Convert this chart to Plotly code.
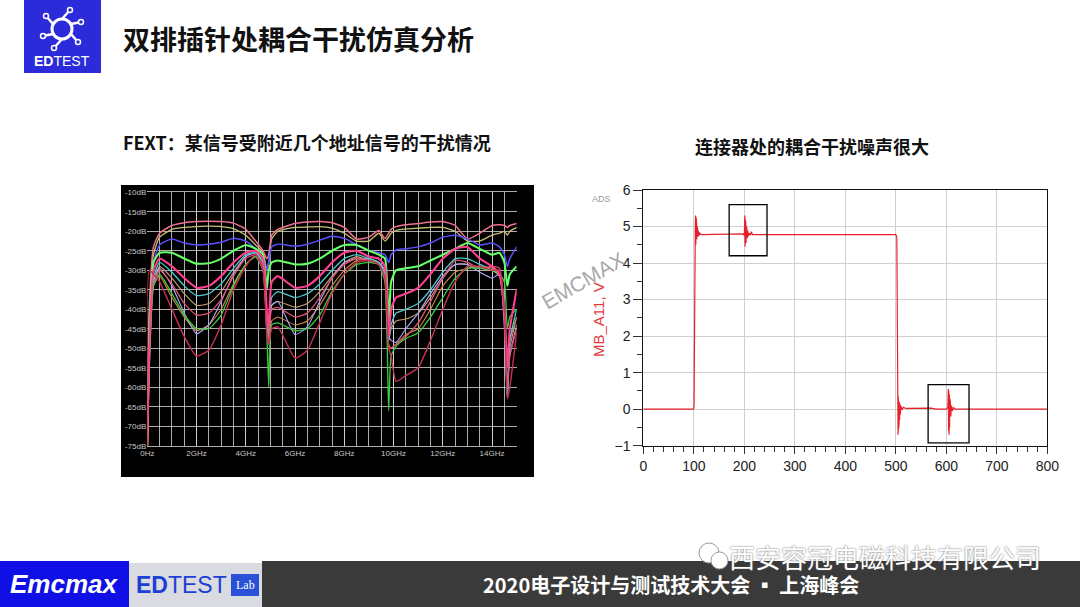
import plotly.graph_objects as go

W, H = 1080, 607

# ---------------- data: left chart (FEXT, dB vs GHz) ----------------
freq_ghz = [0, 0.08, 0.25, 0.5, 1.0, 1.5, 2.0, 2.5, 3.0, 3.5, 4.0, 4.4, 4.7, 4.85, 4.93, 5.05, 5.3,
            6.0, 6.5, 7.0, 7.5, 8.0, 8.5, 9.0, 9.4, 9.65, 9.8, 9.9, 10.1, 10.5, 11.0, 11.5, 12.0,
            12.5, 13.0, 13.5, 14.0, 14.3, 14.5, 14.62, 14.72, 15.0]

fext_pink_top = [-75, -40, -24, -20.5, -18.5, -17.8, -17.5, -17.4, -17.5, -17.9, -19.5, -22.5, -25, -27, -26, -21, -19.5,
                 -18, -17.6, -17.5, -17.8, -19, -22, -21.5, -19.8, -21.8, -20.5, -19.5, -18.8, -18.3, -18, -17.6, -17.5,
                 -18.5, -22, -20.5, -18.5, -18.3, -18.5, -19, -18.5, -18]
fext_olive_top = [-75, -42, -26, -21.5, -19.5, -19, -18.8, -18.7, -18.8, -19.3, -21, -23.5, -25.5, -30, -28, -22, -20,
                  -19, -18.9, -18.8, -19.2, -20.5, -22.5, -22.5, -20.5, -22.5, -21.5, -20.5, -19.8, -19.4, -19.2, -19, -19,
                  -20, -22.5, -22.5, -21, -20.5, -20, -21, -20, -19]
fext_blue = [-75, -45, -28, -23.5, -22, -23, -23.5, -23.3, -22.8, -21.8, -22.5, -24.5, -26, -30, -28, -24, -23.3,
             -23.8, -23.3, -22.3, -21.3, -21.8, -23.5, -25, -25.5, -26, -28, -26, -24.8, -24.5, -24, -23, -21.5,
             -21, -22, -23.5, -23, -24, -26, -29, -27, -24]
fext_green_thick = [-75, -45, -28, -25.5, -25.5, -27, -28.3, -28.2, -27, -25, -23.5, -24.5, -26, -35, -30, -28, -27.5,
                    -28.5, -28.3, -27, -25, -23.5, -23.5, -25, -26, -27, -45, -33, -30, -29.5, -29, -27.5, -26,
                    -24.5, -23, -24.5, -26, -25.5, -28, -34, -31, -29]
fext_magenta = [-75, -50, -30, -27, -29, -32, -34.5, -34, -31.5, -28, -25.5, -25, -27, -40, -45, -33, -31.5,
                -34.5, -34, -31.5, -28, -25.5, -25, -26.5, -27, -29, -47, -40, -37, -36, -34.5, -31, -27,
                -24.5, -24, -27, -29, -31, -40, -55, -45, -35]
fext_cyan = [-75, -50, -32, -28, -30.5, -34, -36.5, -36, -33.5, -29.5, -26, -25.5, -28, -42, -46, -37, -35.5,
             -37, -36, -33.5, -30, -27, -26, -27, -28, -31, -48, -44, -41, -40, -38.5, -35, -30.5,
             -27, -27, -28.5, -30, -31, -40, -62, -48, -40]
fext_tan = [-75, -52, -33, -29, -32, -36, -39, -38.5, -35.5, -30.5, -26.5, -25.5, -28, -44, -46, -39, -38,
            -39.5, -38.5, -35.5, -31.5, -28, -26.5, -27.5, -28.5, -32, -48, -45, -43, -42.5, -41, -37, -32,
            -28.5, -28.5, -29.5, -30, -31.5, -42, -60, -50, -42]
fext_lavender = [-75, -52, -33, -29.5, -34, -41, -46.3, -44, -38, -31, -26.5, -25.5, -28, -45, -47, -39, -38,
                 -46.5, -44.5, -38, -32, -28, -27, -27, -28, -30, -47, -48, -48.5, -45, -41, -36, -31.5,
                 -28.5, -28.5, -30.5, -32, -31, -45, -63, -52, -44]
fext_rose = [-75, -55, -34, -30, -33.5, -38.5, -41.5, -41, -37.5, -31.5, -27, -26, -29, -45, -48, -40, -39.5,
             -42, -41, -37, -32, -28.5, -27, -27.5, -28.5, -32, -50, -50, -49, -47, -43.5, -38, -32,
             -27.5, -28, -29.5, -29, -29.5, -42, -60, -52, -45]
fext_green_low = [-75, -55, -34, -31, -36, -41.5, -45, -45, -41.5, -34, -28.5, -26.5, -30, -45, -60, -44, -43.5,
                  -45.5, -45, -41.5, -35.5, -31, -28.5, -28, -28.5, -33, -66, -52, -49.5, -47.5, -46, -42, -37,
                  -32, -29.5, -29.5, -30, -31, -33, -45, -42, -40]
fext_orange = [-75, -55, -34, -31.5, -37, -42, -45.5, -44, -40, -33.5, -28.5, -26.5, -30, -45, -48, -43, -42,
               -44, -43, -39, -34, -30, -27.5, -27, -28, -31, -49, -50, -49, -46.5, -45, -40, -34,
               -30.5, -29.5, -29, -29.5, -31, -40, -55, -48, -42]
fext_deep_red = [-75, -30, -31, -33, -40, -47, -52, -50.5, -44, -35, -29, -26, -30, -46, -49, -45, -44.5,
                 -52.5, -50.5, -43.5, -36, -31, -28, -27.5, -28.5, -32, -50, -52, -58.5, -57, -55, -48, -40,
                 -33, -29, -29, -30, -30, -40, -63, -60, -46]

left_y_ticks = [-75, -70, -65, -60, -55, -50, -45, -40, -35, -30, -25, -20, -15, -10]
left_x_ticks = [0, 2, 4, 6, 8, 10, 12, 14]
left_x_labels = ["0Hz", "2GHz", "4GHz", "6GHz", "8GHz", "10GHz", "12GHz", "14GHz"]

# ---------------- data: right chart (MB_A11 voltage vs time) ----------------
time_ns = [0, 99.5, 100.5, 101, 102, 103, 103.5, 104, 104.5, 105, 105.5, 106, 106.5, 107, 107.5, 108, 109, 110,
           112, 115, 195, 198, 200, 201, 201.5, 202, 202.5, 203, 203.5, 204, 204.5, 205, 206, 207, 208, 210,
           212, 214, 216, 500, 502, 503, 504, 504.5, 505, 505.5, 506, 506.5, 507, 507.5, 508, 509, 510, 512,
           515, 520, 570, 580, 600, 603, 604, 604.5, 605, 605.5, 606, 606.5, 607, 607.5, 608, 609, 610, 612,
           614, 617, 800]
mb_a11_v = [0, 0, 0.1, 3.0, 3.1, 5.0, 5.3, 4.5, 5.25, 4.6, 5.1, 4.65, 5.0, 4.7, 4.95, 4.72, 4.88, 4.75,
            4.82, 4.78, 4.78, 4.8, 4.75, 5.3, 4.45, 5.2, 4.5, 5.1, 4.55, 5.0, 4.6, 4.95, 4.68, 4.88, 4.74, 4.82,
            4.76, 4.86, 4.78, 4.78, 4.72, 1.2, 0.3, -0.7, 0.35, -0.55, 0.3, -0.4, 0.2, -0.3, 0.15, -0.15, 0.1, -0.02,
            0.05, 0.02, 0.03, 0.0, 0.0, 0.05, 0.55, -0.6, 0.5, -0.7, 0.4, -0.5, 0.3, -0.35, 0.2, -0.2, 0.1, -0.05,
            0.05, 0, 0]
highlight_box_1 = {"t": [170, 245], "v": [4.2, 5.6]}
highlight_box_2 = {"t": [564, 645], "v": [-0.92, 0.67]}

# ---------------- texts ----------------
title_text = "双排插针处耦合干扰仿真分析"
left_caption = "FEXT：某信号受附近几个地址信号的干扰情况"
right_caption = "连接器处的耦合干扰噪声很大"
footer_text = "2020电子设计与测试技术大会 ▪ 上海峰会"
company_text = "西安容冠电磁科技有限公司"

CJK = "Noto Sans CJK SC"
LAT = "Liberation Sans"


def px(x):
    return x / W


def py(y):
    return 1 - y / H


fig = go.Figure()

left_series = [
    (fext_olive_top, "#c8c070", 1.3),
    (fext_pink_top, "#f07090", 1.5),
    (fext_blue, "#5a50ff", 1.5),
    (fext_tan, "#c8a070", 1.1),
    (fext_orange, "#d08840", 1.1),
    (fext_lavender, "#b0a8ff", 1.1),
    (fext_cyan, "#50c8d0", 1.3),
    (fext_rose, "#e05070", 1.3),
    (fext_green_low, "#40c840", 1.3),
    (fext_green_thick, "#66ff66", 2.1),
    (fext_magenta, "#ff4090", 2.1),
    (fext_deep_red, "#c83050", 1.4),
]
for vals, col, lw in left_series:
    fig.add_trace(go.Scatter(x=freq_ghz, y=vals, mode="lines", xaxis="x", yaxis="y",
                             line=dict(color=col, width=lw, shape="spline", smoothing=0.5),
                             hoverinfo="skip"))

fig.add_trace(go.Scatter(x=time_ns, y=mb_a11_v, mode="lines", xaxis="x2", yaxis="y2",
                         line=dict(color="#e8202a", width=1.2), hoverinfo="skip"))

GRID_L = "rgba(215,215,215,0.8)"
fig.update_layout(
    width=W, height=H, margin=dict(l=0, r=0, t=0, b=0, pad=0, autoexpand=False),
    paper_bgcolor="white", plot_bgcolor="rgba(0,0,0,0)", showlegend=False,
    xaxis=dict(domain=[px(147.3), px(516.7)], anchor="y", range=[0, 15], automargin=False,
               tickmode="array", tickvals=left_x_ticks, ticktext=left_x_labels,
               showgrid=True, gridcolor=GRID_L, gridwidth=1, zeroline=False, ticks="",
               minor=dict(tickmode="linear", tick0=0, dtick=0.5, showgrid=True, gridcolor=GRID_L, gridwidth=1),
               tickfont=dict(family=LAT, size=8, color="#c8c8c8"), showline=True, linecolor=GRID_L, mirror=True),
    yaxis=dict(domain=[py(445.7), py(192.3)], anchor="x", range=[-75, -10], automargin=False,
               tickmode="array", tickvals=left_y_ticks, ticktext=[f"{v}dB" for v in left_y_ticks],
               showgrid=True, gridcolor=GRID_L, gridwidth=1, zeroline=False, ticks="",
               tickfont=dict(family=LAT, size=8, color="#c8c8c8"), showline=False),
    xaxis2=dict(domain=[px(643.3), px(1047.3)], anchor="y2", range=[0, 800], automargin=False,
                tickmode="linear", tick0=0, dtick=100, showgrid=True, gridcolor="#cfcfcf", gridwidth=1,
                zeroline=False, ticks="outside", ticklen=7, tickcolor="#333", tickwidth=1,
                minor=dict(tickmode="linear", tick0=0, dtick=20, ticks="outside", ticklen=5, tickcolor="#333",
                           showgrid=False),
                showline=True, linecolor="#111", linewidth=1, mirror=True,
                tickfont=dict(family=LAT, size=14, color="#222")),
    yaxis2=dict(domain=[py(445.7), py(190)], anchor="x2", range=[-1, 6], automargin=False,
                tickmode="linear", tick0=-1, dtick=1, showgrid=True, gridcolor="#cfcfcf", gridwidth=1,
                zeroline=False, ticks="outside", ticklen=9, tickcolor="#333", tickwidth=1,
                minor=dict(tickmode="linear", tick0=-1, dtick=0.5, ticks="outside", ticklen=5, tickcolor="#333",
                           showgrid=False),
                showline=True, linecolor="#111", linewidth=1, mirror=True,
                tickfont=dict(family=LAT, size=14, color="#222")),
)

shapes = []
# left chart black panel
shapes.append(dict(type="rect", xref="paper", yref="paper", x0=px(121), x1=px(534), y0=py(477), y1=py(185),
                   fillcolor="black", line=dict(width=0), layer="below"))
# header logo
shapes.append(dict(type="rect", xref="paper", yref="paper", x0=px(24), x1=px(101), y0=py(73), y1=py(0),
                   fillcolor="#2b2bd9", line=dict(width=0), layer="below"))
shapes.append(dict(type="circle", xref="paper", yref="paper", x0=px(52), x1=px(72), y0=py(39), y1=py(19),
                   fillcolor="rgba(0,0,0,0)", line=dict(color="white", width=3)))
arms = [((62, 19), (70, 10)), ((71, 24), (81, 22)), ((71, 34), (78, 42)),
        ((62, 39), (54, 48)), ((53, 34), (43, 36)), ((53, 24), (46, 16))]
for (xa, ya), (xb, yb) in arms:
    shapes.append(dict(type="line", xref="paper", yref="paper", x0=px(xa), y0=py(ya), x1=px(xb), y1=py(yb),
                       line=dict(color="white", width=2.5)))
    shapes.append(dict(type="circle", xref="paper", yref="paper", x0=px(xb - 2.5), x1=px(xb + 2.5),
                       y0=py(yb + 2.5), y1=py(yb - 2.5), fillcolor="#2b2bd9", line=dict(color="white", width=1.5)))
# right chart highlight boxes
for box in (highlight_box_1, highlight_box_2):
    shapes.append(dict(type="rect", xref="x2", yref="y2", x0=box["t"][0], x1=box["t"][1],
                       y0=box["v"][0], y1=box["v"][1], line=dict(color="black", width=1.3),
                       fillcolor="rgba(0,0,0,0)"))
# footer
shapes.append(dict(type="rect", xref="paper", yref="paper", x0=px(0), x1=px(129), y0=py(607), y1=py(561),
                   fillcolor="#1010e6", line=dict(width=0), layer="below"))
shapes.append(dict(type="rect", xref="paper", yref="paper", x0=px(129), x1=px(262), y0=py(607), y1=py(563),
                   fillcolor="#d9dbe0", line=dict(width=0), layer="below"))
shapes.append(dict(type="rect", xref="paper", yref="paper", x0=px(262), x1=px(1080), y0=py(607), y1=py(561),
                   fillcolor="#3b3a3a", line=dict(width=0), layer="below"))
shapes.append(dict(type="rect", xref="paper", yref="paper", x0=px(231), x1=px(259), y0=py(596), y1=py(574),
                   fillcolor="#2a50d8", line=dict(width=0)))
# wechat icon
shapes.append(dict(type="circle", xref="paper", yref="paper", x0=px(699), x1=px(719), y0=py(563), y1=py(543),
                   fillcolor="white", line=dict(color="#9a9a9a", width=1)))
shapes.append(dict(type="circle", xref="paper", yref="paper", x0=px(711), x1=px(728), y0=py(569), y1=py(552),
                   fillcolor="white", line=dict(color="#9a9a9a", width=1)))
fig.update_layout(shapes=shapes)

ann = []


def add_text(x, y, text, size, color, family, xanchor="center", angle=0, **kw):
    ann.append(dict(x=px(x), y=py(y), xref="paper", yref="paper", text=text, showarrow=False,
                    xanchor=xanchor, yanchor="middle", textangle=angle,
                    font=dict(size=size, color=color, family=family, **kw)))


add_text(62, 61, "<b>ED</b>TEST", 14, "white", LAT)
add_text(121, 38, f"<b>{title_text}</b>", 27, "#111", CJK, xanchor="left")
add_text(121, 142, f"<b>{left_caption}</b>", 18, "#111", CJK, xanchor="left")
add_text(812, 146, f"<b>{right_caption}</b>", 18, "#111", CJK)
add_text(601, 199, "ADS", 9, "#9a9a9a", LAT)
add_text(598, 320, "MB_A11, V", 15, "#e8383d", LAT, angle=-90)
add_text(583, 280, "EMCMAX", 21, "rgba(140,140,140,0.75)", LAT, angle=-30)
add_text(64, 584, "<b><i>Emcmax</i></b>", 26, "white", LAT)
add_text(134, 585, "<b>ED</b>TEST", 23, "#1d3fd6", LAT, xanchor="left")
add_text(245, 585, "Lab", 12, "white", "Liberation Serif")
add_text(671, 584, f"<b>{footer_text}</b>", 20, "white", CJK)
add_text(727, 556, company_text, 26, "white", CJK, xanchor="left", shadow="0px 0px 2px #555")
fig.update_layout(annotations=ann)

fig.write_html("out.html", config={"displayModeBar": False},
               post_script="document.body.style.margin='0px';document.body.style.overflow='hidden';")
